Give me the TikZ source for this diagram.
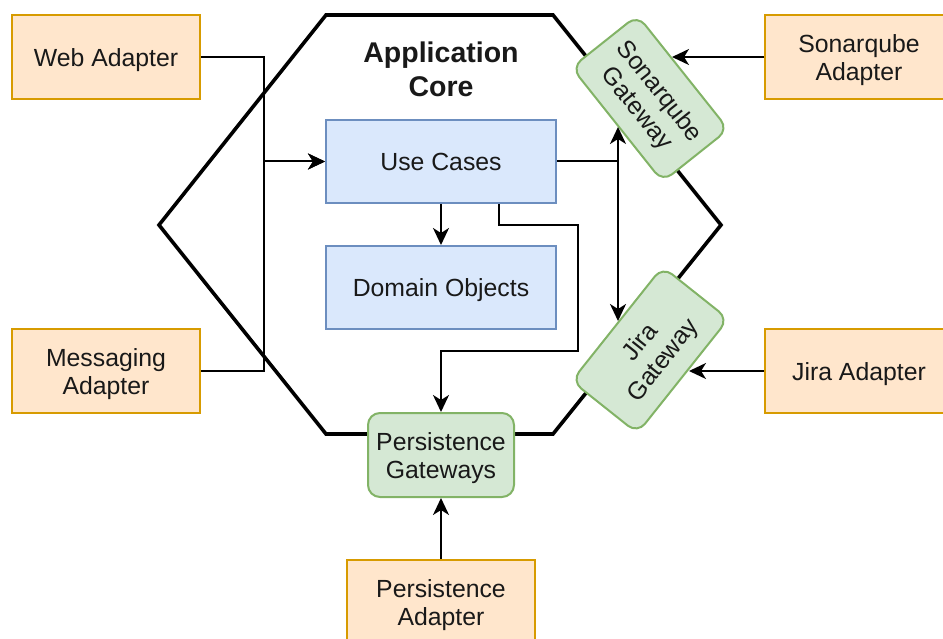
\documentclass[tikz,border=0pt]{standalone}
\usepackage{fontspec}
\setmainfont{Liberation Sans}
\usetikzlibrary{arrows.meta}
\definecolor{adfill}{HTML}{FFE6CC}
\definecolor{adline}{HTML}{D79B00}
\definecolor{corefill}{HTML}{DAE8FC}
\definecolor{coreline}{HTML}{6C8EBF}
\definecolor{gwfill}{HTML}{D5E8D4}
\definecolor{gwline}{HTML}{82B366}
\tikzset{
  lbl/.style={font=\fontsize{24.8}{28.5}\selectfont, text=black!90, align=center, inner sep=0pt},
  oneline/.style={text height=19pt, text depth=0pt},
  twoline/.style={text height=47.5pt, text depth=0pt},
  adapter/.style={lbl, draw=adline, fill=adfill, line width=2pt, minimum width=188pt, minimum height=84pt},
  corebox/.style={lbl, oneline, draw=coreline, fill=corefill, line width=2pt, minimum width=230pt, minimum height=83pt},
  gateway/.style={lbl, twoline, draw=gwline, fill=gwfill, line width=2pt, rounded corners=12pt, minimum width=146pt, minimum height=84pt},
  conn/.style={draw=black, line width=2pt, -{Stealth[length=17pt,width=16pt,inset=5pt]}},
  hexline/.style={draw=black, line width=3.6pt, line join=miter}
}
\begin{document}
\begin{tikzpicture}[x=1pt,y=-1pt]
\useasboundingbox (0,0) rectangle (943,639);

% hexagonal application core
\draw[hexline] (326,15) -- (553,15) -- (721,225) -- (553,434) -- (326,434) -- (159,225) -- cycle;
\node[lbl, font=\fontsize{28.5}{34}\selectfont\bfseries] (title) at (441,69) {Application\\Core};

% inner components
\node[corebox] (uc) at (441,161.5) {Use Cases};
\node[corebox] (dom) at (441,287.5) {Domain Objects};

% gateways on the hexagon border
\node[gateway] (pgw) at (441,455) {Persistence\\Gateways};
\node[gateway, rotate=-51.5] (sgw) at (650,98.5) {Sonarqube\\Gateway};
\node[gateway, rotate=51.5] (jgw) at (650,350) {Jira\\Gateway};

% adapters outside
\node[adapter, oneline] (web) at (106,57) {Web Adapter};
\node[adapter, twoline] (msg) at (106,371) {Messaging\\Adapter};
\node[adapter, twoline] (sa) at (859,57) {Sonarqube\\Adapter};
\node[adapter, oneline] (ja) at (859,371) {Jira Adapter};
\node[adapter, twoline] (pa) at (441,602) {Persistence\\Adapter};

% connector end points on the rotated gateways
\coordinate (sgwin) at (618,127);
\coordinate (jgwin) at (618,321);
\coordinate (sgin) at (672,57);
\coordinate (jgin) at (689,371);

% connectors
\draw[conn] (web.east) -- ++(63,0) |- (uc.west);
\draw[conn] (msg.east) -- ++(63,0) |- (uc.west);
\draw[conn] (uc.south) -- (dom.north);
\draw[conn] ([xshift=-58pt]uc.south east) -- ++(0,21) -- ++(79,0) -- ++(0,126) -| (pgw.north);
\draw[conn] (uc.east) -| (sgwin);
\draw[conn] (uc.east) -| (jgwin);
\draw[conn] (sa.west) -- (sgin);
\draw[conn] (ja.west) -- (jgin);
\draw[conn] (pa.north) -- (pgw.south);
\end{tikzpicture}
\end{document}
